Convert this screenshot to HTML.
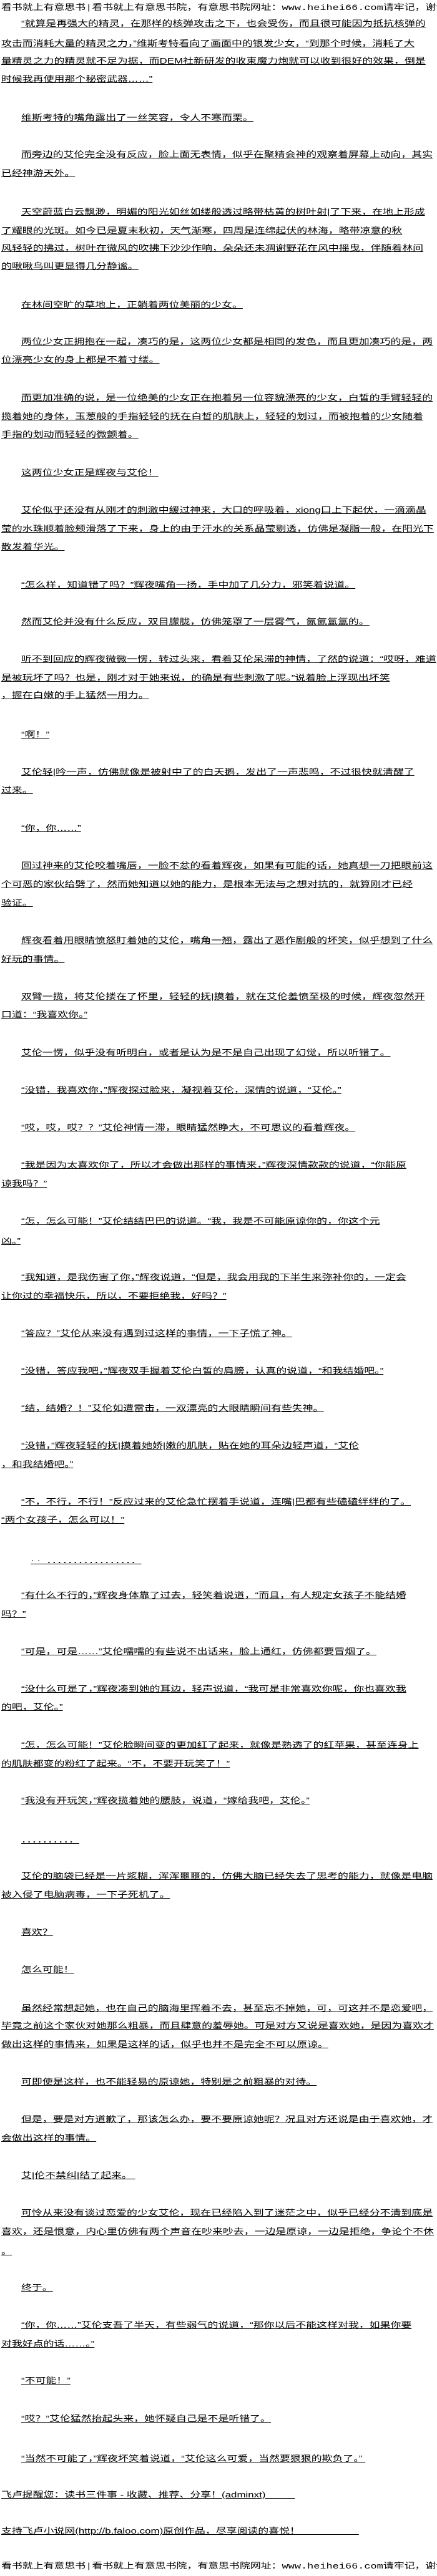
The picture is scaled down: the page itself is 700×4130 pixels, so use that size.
<!DOCTYPE html>
<html><head><meta charset="utf-8">
<style>
html,body{margin:0;padding:0;background:#fff;}
body{width:700px;height:4130px;position:relative;overflow:hidden;color:#000;}
.l{position:absolute;white-space:nowrap;font-family:"Liberation Sans","Noto Sans CJK SC",sans-serif;font-size:13px;line-height:16px;text-decoration:underline;transform:scaleX(1.3);transform-origin:0 0;}
.i{left:34px;}
.c{left:2px;}
.h{text-decoration:none;font-family:"Liberation Mono","Noto Sans CJK SC",monospace;left:2px;}
</style></head><body>
<div class="l h" style="top:5px">看书就上有意思书|看书就上有意思书院，有意思书院网址：www.heihei66.com请牢记，谢谢</div>

<div class="l i" style="top:30px">“就算是再强大的精灵，在那样的核弹攻击之下，也会受伤，而且很可能因为抵抗核弹的</div>
<div class="l c" style="top:62px">攻击而消耗大量的精灵之力，”维斯考特看向了画面中的银发少女，“到那个时候，消耗了大</div>
<div class="l c" style="top:90px">量精灵之力的精灵就不足为据，而DEM社新研发的收束魔力炮就可以收到很好的效果，倒是</div>
<div class="l c" style="top:119px">时候我再使用那个秘密武器……”</div>

<div class="l i" style="top:181px">维斯考特的嘴角露出了一丝笑容，令人不寒而栗。</div>

<div class="l i" style="top:240px">而旁边的艾伦完全没有反应，脸上面无表情，似乎在聚精会神的观察着屏幕上动向，其实</div>
<div class="l c" style="top:270px">已经神游天外。</div>

<div class="l i" style="top:332px">天空蔚蓝白云飘渺，明媚的阳光如丝如缕般透过略带枯黄的树叶射|了下来，在地上形成</div>
<div class="l c" style="top:362px">了耀眼的光斑。如今已是夏末秋初，天气渐寒，四周是连绵起伏的林海，略带凉意的秋</div>
<div class="l c" style="top:390px">风轻轻的拂过，树叶在微风的吹拂下沙沙作响，朵朵还未凋谢野花在风中摇曳，伴随着林间</div>
<div class="l c" style="top:419px">的啾啾鸟叫更显得几分静谧。</div>

<div class="l i" style="top:481px">在林间空旷的草地上，正躺着两位美丽的少女。</div>

<div class="l i" style="top:540px">两位少女正拥抱在一起，凑巧的是，这两位少女都是相同的发色，而且更加凑巧的是，两</div>
<div class="l c" style="top:569px">位漂亮少女的身上都是不着寸缕。</div>

<div class="l i" style="top:630px">而更加准确的说，是一位绝美的少女正在抱着另一位容貌漂亮的少女，白皙的手臂轻轻的</div>
<div class="l c" style="top:660px">揽着她的身体，玉葱般的手指轻轻的抚在白皙的肌肤上，轻轻的划过，而被抱着的少女随着</div>
<div class="l c" style="top:689px">手指的划动而轻轻的微颤着。</div>

<div class="l i" style="top:750px">这两位少女正是辉夜与艾伦！</div>

<div class="l i" style="top:810px">艾伦似乎还没有从刚才的刺激中缓过神来，大口的呼吸着，xiong口上下起伏，一滴滴晶</div>
<div class="l c" style="top:840px">莹的水珠顺着脸颊滑落了下来，身上的由于汗水的关系晶莹剔透，仿佛是凝脂一般，在阳光下</div>
<div class="l c" style="top:869px">散发着华光。</div>

<div class="l i" style="top:930px">“怎么样，知道错了吗？”辉夜嘴角一扬，手中加了几分力，邪笑着说道。</div>

<div class="l i" style="top:989px">然而艾伦并没有什么反应，双目朦胧，仿佛笼罩了一层雾气，氤氤氲氲的。</div>

<div class="l i" style="top:1049px">听不到回应的辉夜微微一愣，转过头来，看着艾伦呆滞的神情，了然的说道：“哎呀，难道</div>
<div class="l c" style="top:1079px">是被玩坏了吗？也是，刚才对于她来说，的确是有些刺激了呢。”说着脸上浮现出坏笑</div>
<div class="l c" style="top:1107px">，握在白嫩的手上猛然一用力。</div>

<div class="l i" style="top:1170px">“啊！”</div>

<div class="l i" style="top:1230px">艾伦轻|吟一声，仿佛就像是被射中了的白天鹅，发出了一声悲鸣，不过很快就清醒了</div>
<div class="l c" style="top:1259px">过来。</div>

<div class="l i" style="top:1320px">“你，你……”</div>

<div class="l i" style="top:1380px">回过神来的艾伦咬着嘴唇，一脸不忿的看着辉夜，如果有可能的话，她真想一刀把眼前这</div>
<div class="l c" style="top:1410px">个可恶的家伙给劈了，然而她知道以她的能力，是根本无法与之想对抗的，就算刚才已经</div>
<div class="l c" style="top:1440px">验证。</div>

<div class="l i" style="top:1500px">辉夜看着用眼睛愤怒盯着她的艾伦，嘴角一翘，露出了恶作剧般的坏笑，似乎想到了什么</div>
<div class="l c" style="top:1530px">好玩的事情。</div>

<div class="l i" style="top:1590px">双臂一揽，将艾伦搂在了怀里，轻轻的抚|摸着，就在艾伦羞愤至极的时候，辉夜忽然开</div>
<div class="l c" style="top:1619px">口道：“我喜欢你。”</div>

<div class="l i" style="top:1680px">艾伦一愣，似乎没有听明白，或者是认为是不是自己出现了幻觉，所以听错了。</div>

<div class="l i" style="top:1740px">“没错，我喜欢你，”辉夜探过脸来，凝视着艾伦，深情的说道，“艾伦。”</div>

<div class="l i" style="top:1800px">“哎，哎，哎？？”艾伦神情一滞，眼睛猛然睁大，不可思议的看着辉夜。</div>

<div class="l i" style="top:1860px">“我是因为太喜欢你了，所以才会做出那样的事情来，”辉夜深情款款的说道，“你能原</div>
<div class="l c" style="top:1890px">谅我吗？”</div>

<div class="l i" style="top:1950px">“怎，怎么可能！”艾伦结结巴巴的说道。“我，我是不可能原谅你的，你这个元</div>
<div class="l c" style="top:1982px">凶。”</div>

<div class="l i" style="top:2040px">“我知道，是我伤害了你，”辉夜说道，“但是，我会用我的下半生来弥补你的，一定会</div>
<div class="l c" style="top:2070px">让你过的幸福快乐，所以，不要拒绝我，好吗？”</div>

<div class="l i" style="top:2130px">“答应？”艾伦从来没有遇到过这样的事情，一下子慌了神。</div>

<div class="l i" style="top:2190px">“没错，答应我吧，”辉夜双手握着艾伦白皙的肩膀，认真的说道，“和我结婚吧。”</div>

<div class="l i" style="top:2250px">“结，结婚？！”艾伦如遭雷击，一双漂亮的大眼睛瞬间有些失神。</div>

<div class="l i" style="top:2310px">“没错，”辉夜轻轻的抚|摸着她娇|嫩的肌肤，贴在她的耳朵边轻声道，“艾伦</div>
<div class="l c" style="top:2340px">，和我结婚吧。”</div>

<div class="l i" style="top:2400px">“不，不行，不行！”反应过来的艾伦急忙摆着手说道，连嘴|巴都有些磕磕绊绊的了。</div>
<div class="l c" style="top:2429px">“两个女孩子，怎么可以！”</div>

<div class="l" style="top:2494px;left:49px;">·&nbsp;·&nbsp;&nbsp;．．．．．．．．．．．．．．．．．</div>

<div class="l i" style="top:2550px">“有什么不行的，”辉夜身体靠了过去，轻笑着说道，“而且，有人规定女孩子不能结婚</div>
<div class="l c" style="top:2580px">吗？”</div>

<div class="l i" style="top:2640px">“可是，可是……”艾伦嚅嚅的有些说不出话来，脸上通红，仿佛都要冒烟了。</div>

<div class="l i" style="top:2700px">“没什么可是了，”辉夜凑到她的耳边，轻声说道，“我可是非常喜欢你呢，你也喜欢我</div>
<div class="l c" style="top:2729px">的吧，艾伦。”</div>

<div class="l i" style="top:2790px">“怎，怎么可能！”艾伦脸瞬间变的更加红了起来，就像是熟透了的红苹果，甚至连身上</div>
<div class="l c" style="top:2820px">的肌肤都变的粉红了起来。“不，不要开玩笑了！”</div>

<div class="l i" style="top:2879px">“我没有开玩笑，”辉夜揽着她的腰肢，说道，“嫁给我吧，艾伦。”</div>

<div class="l i" style="top:2942px">．．．．．．．．．．</div>

<div class="l i" style="top:3000px">艾伦的脑袋已经是一片浆糊，浑浑噩噩的，仿佛大脑已经失去了思考的能力，就像是电脑</div>
<div class="l c" style="top:3030px">被入侵了电脑病毒，一下子死机了。</div>

<div class="l i" style="top:3090px">喜欢？</div>

<div class="l i" style="top:3150px">怎么可能！</div>

<div class="l i" style="top:3212px">虽然经常想起她，也在自己的脑海里挥着不去，甚至忘不掉她，可，可这并不是恋爱吧，</div>
<div class="l c" style="top:3240px">毕竟之前这个家伙对她那么粗暴，而且肆意的羞辱她。可是对方又说是喜欢她，是因为喜欢才</div>
<div class="l c" style="top:3270px">做出这样的事情来，如果是这样的话，似乎也并不是完全不可以原谅。</div>

<div class="l i" style="top:3330px">可即使是这样，也不能轻易的原谅她，特别是之前粗暴的对待。</div>

<div class="l i" style="top:3390px">但是，要是对方道歉了，那该怎么办，要不要原谅她呢？况且对方还说是由于喜欢她，才</div>
<div class="l c" style="top:3420px">会做出这样的事情。</div>

<div class="l i" style="top:3480px">艾|伦不禁纠|结了起来。&nbsp;</div>

<div class="l i" style="top:3540px">可怜从来没有谈过恋爱的少女艾伦，现在已经陷入到了迷茫之中，似乎已经分不清到底是</div>
<div class="l c" style="top:3570px">喜欢，还是恨意，内心里仿佛有两个声音在吵来吵去，一边是原谅，一边是拒绝，争论个不休</div>
<div class="l c" style="top:3602px">。</div>

<div class="l i" style="top:3660px">终于。</div>

<div class="l i" style="top:3720px">“你，你……”艾伦支吾了半天，有些弱气的说道，“那你以后不能这样对我，如果你要</div>
<div class="l c" style="top:3750px">对我好点的话……。”</div>

<div class="l i" style="top:3809px">“不可能！”</div>

<div class="l i" style="top:3870px">“哎？”艾伦猛然抬起头来，她怀疑自己是不是听错了。</div>

<div class="l i" style="top:3934px">“当然不可能了，”辉夜坏笑着说道，“艾伦这么可爱，当然要狠狠的欺负了。”&nbsp;</div>

<div class="l c" style="top:3992px">飞卢提醒您：读书三件事 - 收藏、推荐、分享！(adminxt)&nbsp;&nbsp;&nbsp;&nbsp;&nbsp;&nbsp;&nbsp;&nbsp;&nbsp;&nbsp;</div>

<div class="l c" style="top:4050px">支持飞卢小说网(http://b.faloo.com)原创作品，尽享阅读的喜悦！&nbsp;&nbsp;&nbsp;&nbsp;&nbsp;&nbsp;&nbsp;&nbsp;&nbsp;&nbsp;&nbsp;&nbsp;&nbsp;&nbsp;&nbsp;&nbsp;&nbsp;&nbsp;&nbsp;&nbsp;</div>

<div class="l h" style="top:4107px">看书就上有意思书|看书就上有意思书院，有意思书院网址：www.heihei66.com请牢记，谢谢</div>
</body></html>
